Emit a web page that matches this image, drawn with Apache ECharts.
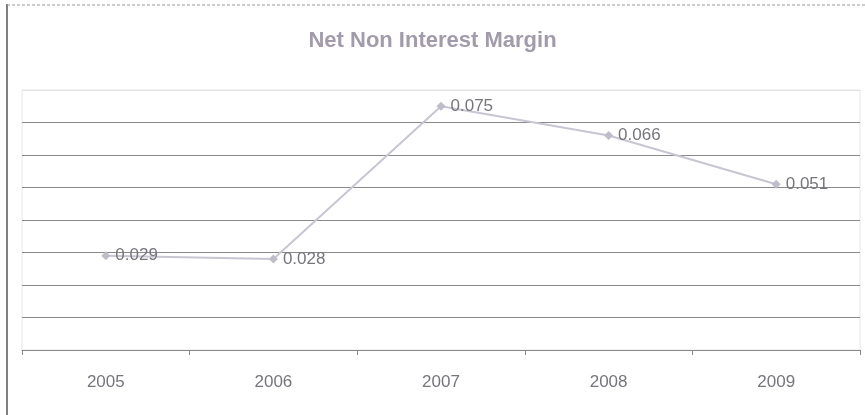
<!DOCTYPE html>
<html>
<head>
<meta charset="utf-8">
<script src="https://cdn.jsdelivr.net/npm/echarts@6/dist/echarts.min.js"></script>
<style>
html, body { margin: 0; padding: 0; background: #fff; }
#chart { width: 865px; height: 415px; }
</style>
</head>
<body>
<div id="chart"></div>
<script>
// chart data
const years = ['2005', '2006', '2007', '2008', '2009'];
const margin = [0.029, 0.028, 0.075, 0.066, 0.051];
const labels = ['0.029', '0.028', '0.075', '0.066', '0.051'];

const chart = echarts.init(document.getElementById('chart'));

const option = {
  backgroundColor: '#fff',
  animation: false,
  title: {
    text: 'Net Non Interest Margin',
    left: 'center',
    top: 25,
    textStyle: {
      fontFamily: 'Liberation Sans',
      fontSize: 22,
      fontWeight: 'bold',
      color: '#a29bab'
    }
  },
  // scanned frame: dark left edge and dotted top edge
  graphic: [
    { type: 'line', shape: { x1: 7, y1: 4, x2: 7, y2: 415 }, style: { stroke: '#555', lineWidth: 1.5 } },
    { type: 'line', shape: { x1: 7, y1: 5, x2: 865, y2: 5 }, style: { stroke: '#999', lineWidth: 1, lineDash: [3, 2] } }
  ],
  grid: {
    left: 22,
    right: 5,
    top: 90,
    bottom: 65,
    show: true,
    borderColor: '#e6e6e6',
    borderWidth: 1
  },
  xAxis: {
    type: 'category',
    data: years,
    boundaryGap: true,
    axisLine: { lineStyle: { color: '#888', width: 1 } },
    axisTick: { show: true, length: 5, lineStyle: { color: '#888' } },
    axisLabel: {
      margin: 24,
      fontFamily: 'Liberation Sans',
      fontSize: 17,
      color: '#77757c'
    }
  },
  yAxis: {
    type: 'value',
    min: 0,
    max: 0.08,
    interval: 0.01,
    axisLine: { show: false },
    axisTick: { show: false },
    axisLabel: { show: false },
    splitLine: {
      lineStyle: {
        color: ['#888', '#8a8a8a', '#8a8a8a', '#8a8a8a', '#8a8a8a', '#8a8a8a', '#8a8a8a', '#8a8a8a', '#e2e2e2'],
        width: 1
      }
    }
  },
  series: [
    {
      name: 'Net Non Interest Margin',
      type: 'line',
      data: margin,
      symbol: 'diamond',
      symbolSize: 9,
      lineStyle: { color: '#c9c5d1', width: 2 },
      itemStyle: { color: '#c0bcc8' },
      label: {
        show: true,
        position: 'right',
        distance: 5,
        fontFamily: 'Liberation Sans',
        fontSize: 17,
        color: '#77757c',
        formatter: p => labels[p.dataIndex]
      }
    }
  ]
};

chart.setOption(option);
</script>
</body>
</html>
